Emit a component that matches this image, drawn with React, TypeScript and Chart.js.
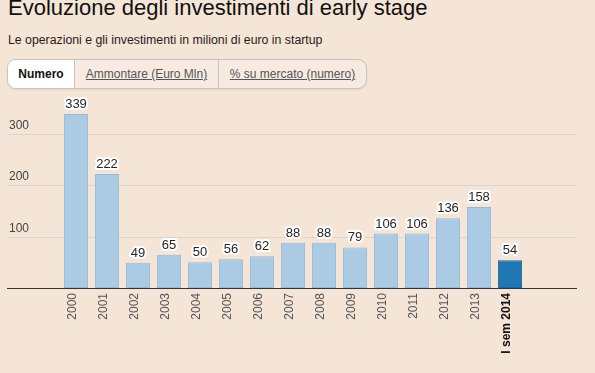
import React, { useEffect, useRef } from "react";
import { Chart, registerables } from "chart.js";

Chart.register(...registerables);

const categories = ["2000", "2001", "2002", "2003", "2004", "2005", "2006", "2007", "2008", "2009", "2010", "2011", "2012", "2013", "I sem 2014"];
const values = [339, 222, 49, 65, 50, 56, 62, 88, 88, 79, 106, 106, 136, 158, 54];
const yTicks = [100, 200, 300];

const FONT = "'Liberation Sans', Arial, sans-serif";
const BG = "#f4e5d7";

const overlay = {
  id: "overlay",
  beforeDatasetsDraw(chart: any) {
    const ctx = chart.ctx;
    const y = chart.scales.y;
    ctx.save();
    ctx.strokeStyle = "#dcd5cf";
    ctx.lineWidth = 1;
    ctx.font = `12px ${FONT}`;
    ctx.fillStyle = "#444";
    ctx.textAlign = "left";
    ctx.textBaseline = "alphabetic";
    for (const t of yTicks) {
      const py = Math.round(y.getPixelForValue(t)) + 0.5;
      ctx.beginPath();
      ctx.moveTo(7, py);
      ctx.lineTo(577, py);
      ctx.stroke();
      ctx.fillText(String(t), 9, py - 6);
    }
    ctx.restore();
  },
  afterDatasetsDraw(chart: any) {
    const ctx = chart.ctx;
    const y = chart.scales.y;
    ctx.save();
    const py = Math.round(y.getPixelForValue(0)) + 0.5;
    ctx.strokeStyle = "#333";
    ctx.lineWidth = 1;
    ctx.beginPath();
    ctx.moveTo(7, py);
    ctx.lineTo(577, py);
    ctx.stroke();
    const meta = chart.getDatasetMeta(0);
    ctx.font = `13px ${FONT}`;
    ctx.textAlign = "center";
    ctx.textBaseline = "alphabetic";
    ctx.lineJoin = "round";
    meta.data.forEach((bar: any, i: number) => {
      const txt = String(values[i]);
      const tx = bar.x;
      const ty = bar.y - 6;
      ctx.strokeStyle = "#ffffff";
      ctx.lineWidth = 4;
      ctx.strokeText(txt, tx, ty);
      ctx.fillStyle = "#262626";
      ctx.fillText(txt, tx, ty);
    });
    ctx.restore();
  },
};

function ChartCanvas() {
  const ref = useRef<HTMLCanvasElement | null>(null);
  useEffect(() => {
    if (!ref.current) return;
    Chart.defaults.font.family = FONT;
    const last = categories.length - 1;
    const chart = new Chart(ref.current, {
      type: "bar",
      data: {
        labels: categories,
        datasets: [
          {
            data: values,
            backgroundColor: values.map((_, i) => (i === last ? "#1f77b4" : "#aacbe3")),
            borderColor: values.map((_, i) => (i === last ? "#1a66a0" : "#93bbd8")),
            borderWidth: 1,
            borderSkipped: false,
            barPercentage: 0.78,
            categoryPercentage: 1,
          },
        ],
      },
      options: {
        responsive: false,
        animation: false,
        layout: { padding: { left: 60.5, right: 69.5, top: 18.3, bottom: 0 } },
        plugins: { legend: { display: false }, tooltip: { enabled: false } },
        scales: {
          x: {
            grid: { display: false, drawTicks: false },
            border: { display: false },
            ticks: {
              autoSkip: false,
              minRotation: 90,
              maxRotation: 90,
              padding: 5,
              labelOffset: -3.5,
              color: (c: any) => (c.index === last ? "#111" : "#555"),
              font: (c: any) => (c.index === last ? { size: 12, weight: "bold" } : { size: 12 }),
            },
            afterFit: (s: any) => {
              s.height = 85;
            },
          },
          y: {
            min: 0,
            max: 350,
            grid: { display: false },
            border: { display: false },
            ticks: { display: false, stepSize: 100 },
            afterFit: (s: any) => {
              s.width = 0;
            },
          },
        },
      },
      plugins: [overlay],
    });
    return () => chart.destroy();
  }, []);
  return <canvas ref={ref} width={595} height={283} style={{ position: "absolute", left: 0, top: 90, width: 595, height: 283 }} />;
}

export default function App() {
  const btnBase: React.CSSProperties = {
    position: "absolute",
    top: 0,
    height: 29,
    lineHeight: "29px",
    textAlign: "center",
    fontSize: 12,
    color: "#555",
    textDecoration: "underline",
    boxSizing: "border-box",
  };
  return (
    <div style={{ position: "fixed", left: 0, top: 0, width: 595, height: 373, background: BG, fontFamily: FONT, overflow: "hidden" }}>
      <div style={{ position: "absolute", left: 8, top: -3, fontSize: 22, lineHeight: "22px", color: "#111", whiteSpace: "nowrap" }}>
        Evoluzione degli investimenti di early stage
      </div>
      <div style={{ position: "absolute", left: 8, top: 34, fontSize: 12.3, lineHeight: "12px", color: "#2a1a1a", whiteSpace: "nowrap" }}>
        Le operazioni e gli investimenti in milioni di euro in startup
      </div>
      <div
        style={{
          position: "absolute",
          left: 7,
          top: 59,
          width: 360,
          height: 30,
          border: "1px solid #cbc3bc",
          borderRadius: 9,
          background: "#f7ebe1",
          boxSizing: "border-box",
          overflow: "hidden",
          boxShadow: "0 1px 2px rgba(0,0,0,0.08)",
        }}
      >
        <div style={{ ...btnBase, left: 0, width: 67, background: "#fff", color: "#111", fontWeight: "bold", textDecoration: "none", borderRight: "1px solid #cbc3bc" }}>
          Numero
        </div>
        <div style={{ ...btnBase, left: 67, width: 144, borderRight: "1px solid #cbc3bc" }}>Ammontare (Euro Mln)</div>
        <div style={{ ...btnBase, left: 211, width: 147 }}>% su mercato (numero)</div>
      </div>
      <ChartCanvas />
    </div>
  );
}
